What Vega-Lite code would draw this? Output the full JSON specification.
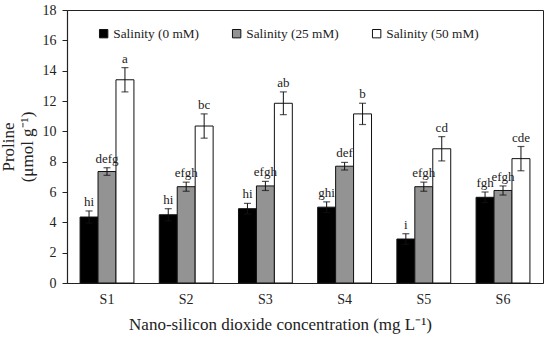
{
  "$schema": "https://vega.github.io/schema/vega-lite/v6.json",
  "width": 476,
  "height": 273,
  "autosize": {"type": "none"},
  "padding": {"left": 67, "top": 10, "right": 7, "bottom": 54},
  "background": "white",
  "config": {
    "font": "Liberation Serif",
    "view": {"stroke": "#222", "strokeWidth": 1},
    "axis": {"labelFont": "Liberation Serif", "titleFont": "Liberation Serif", "labelColor": "#222", "titleColor": "#222", "grid": false, "domainColor": "#222", "tickColor": "#222"},
    "axisY": {"labelOverlap": false, "values": [0, 2, 4, 6, 8, 10, 12, 14, 16, 18], "labelFontSize": 14, "titleFontSize": 17, "titleFontWeight": "normal", "tickSize": 5, "labelPadding": 6, "titlePadding": 6, "domainWidth": 1.2},
    "legend": {"labelFont": "Liberation Serif"}
  },
  "data": {
    "values": [
      {"group": "S1", "salinity": "Salinity (0 mM)", "value": 4.35, "lo": 3.95, "hi": 4.75, "letter": "hi"},
      {"group": "S1", "salinity": "Salinity (25 mM)", "value": 7.35, "lo": 7.1, "hi": 7.6, "letter": "defg"},
      {"group": "S1", "salinity": "Salinity (50 mM)", "value": 13.4, "lo": 12.6, "hi": 14.2, "letter": "a"},
      {"group": "S2", "salinity": "Salinity (0 mM)", "value": 4.5, "lo": 4.1, "hi": 4.9, "letter": "hi"},
      {"group": "S2", "salinity": "Salinity (25 mM)", "value": 6.35, "lo": 6.05, "hi": 6.65, "letter": "efgh"},
      {"group": "S2", "salinity": "Salinity (50 mM)", "value": 10.35, "lo": 9.55, "hi": 11.15, "letter": "bc"},
      {"group": "S3", "salinity": "Salinity (0 mM)", "value": 4.9, "lo": 4.55, "hi": 5.25, "letter": "hi"},
      {"group": "S3", "salinity": "Salinity (25 mM)", "value": 6.4, "lo": 6.1, "hi": 6.7, "letter": "efgh"},
      {"group": "S3", "salinity": "Salinity (50 mM)", "value": 11.85, "lo": 11.1, "hi": 12.6, "letter": "ab"},
      {"group": "S4", "salinity": "Salinity (0 mM)", "value": 5.0, "lo": 4.65, "hi": 5.35, "letter": "ghi"},
      {"group": "S4", "salinity": "Salinity (25 mM)", "value": 7.7, "lo": 7.45, "hi": 7.95, "letter": "def"},
      {"group": "S4", "salinity": "Salinity (50 mM)", "value": 11.15, "lo": 10.45, "hi": 11.85, "letter": "b"},
      {"group": "S5", "salinity": "Salinity (0 mM)", "value": 2.9, "lo": 2.55, "hi": 3.25, "letter": "i"},
      {"group": "S5", "salinity": "Salinity (25 mM)", "value": 6.35, "lo": 6.05, "hi": 6.65, "letter": "efgh"},
      {"group": "S5", "salinity": "Salinity (50 mM)", "value": 8.85, "lo": 8.05, "hi": 9.65, "letter": "cd"},
      {"group": "S6", "salinity": "Salinity (0 mM)", "value": 5.65, "lo": 5.3, "hi": 6.0, "letter": "fgh"},
      {"group": "S6", "salinity": "Salinity (25 mM)", "value": 6.1, "lo": 5.8, "hi": 6.4, "letter": "efgh"},
      {"group": "S6", "salinity": "Salinity (50 mM)", "value": 8.2, "lo": 7.4, "hi": 9.0, "letter": "cde"}
    ]
  },
  "encoding": {
    "x": {
      "field": "group", "type": "nominal",
      "scale": {"paddingInner": 0.32, "paddingOuter": 0.165},
      "axis": {"title": "Nano-silicon dioxide concentration (mg L⁻¹)", "labelAngle": 0, "ticks": false, "labelFontSize": 14, "labelPadding": 9, "titleFontSize": 17, "titleFontWeight": "normal", "titlePadding": 10, "titleX": 213, "domainWidth": 1.2}
    },
    "xOffset": {"field": "salinity", "type": "nominal", "scale": {"paddingInner": 0, "paddingOuter": 0}}
  },
  "layer": [
    {
      "mark": {"type": "bar", "stroke": "#111", "strokeWidth": 1},
      "encoding": {
        "y": {
          "field": "value", "type": "quantitative",
          "scale": {"domain": [0, 18], "nice": false},
          "axis": {"title": ["Proline", "(μmol g⁻¹)"]}
        },
        "fill": {
          "field": "salinity", "type": "nominal",
          "scale": {"range": ["#000000", "#939393", "#ffffff"]},
          "legend": {
            "title": null, "orient": "none", "direction": "horizontal",
            "legendX": 30, "legendY": 17,
            "symbolType": "square", "symbolSize": 70, "symbolStrokeColor": "#111", "symbolStrokeWidth": 1,
            "labelFontSize": 13.3, "labelColor": "#222", "labelOffset": 3, "columnPadding": 31
          }
        }
      }
    },
    {
      "mark": {"type": "rule", "color": "#111", "strokeWidth": 1},
      "encoding": {
        "y": {"field": "lo", "type": "quantitative", "axis": {"title": ["Proline", "(μmol g⁻¹)"]}},
        "y2": {"field": "hi"}
      }
    },
    {
      "mark": {"type": "tick", "color": "#111", "thickness": 1.2, "size": 7},
      "encoding": {"y": {"field": "hi", "type": "quantitative", "stack": null, "axis": {"title": ["Proline", "(μmol g⁻¹)"]}}}
    },
    {
      "mark": {"type": "tick", "color": "#111", "thickness": 1.2, "size": 7},
      "encoding": {"y": {"field": "lo", "type": "quantitative", "stack": null, "axis": {"title": ["Proline", "(μmol g⁻¹)"]}}}
    },
    {
      "mark": {"type": "text", "baseline": "alphabetic", "dy": -5, "fontSize": 13, "color": "#222", "font": "Liberation Serif"},
      "encoding": {
        "y": {"field": "hi", "type": "quantitative", "stack": null, "axis": {"title": ["Proline", "(μmol g⁻¹)"]}},
        "text": {"field": "letter"}
      }
    }
  ]
}
